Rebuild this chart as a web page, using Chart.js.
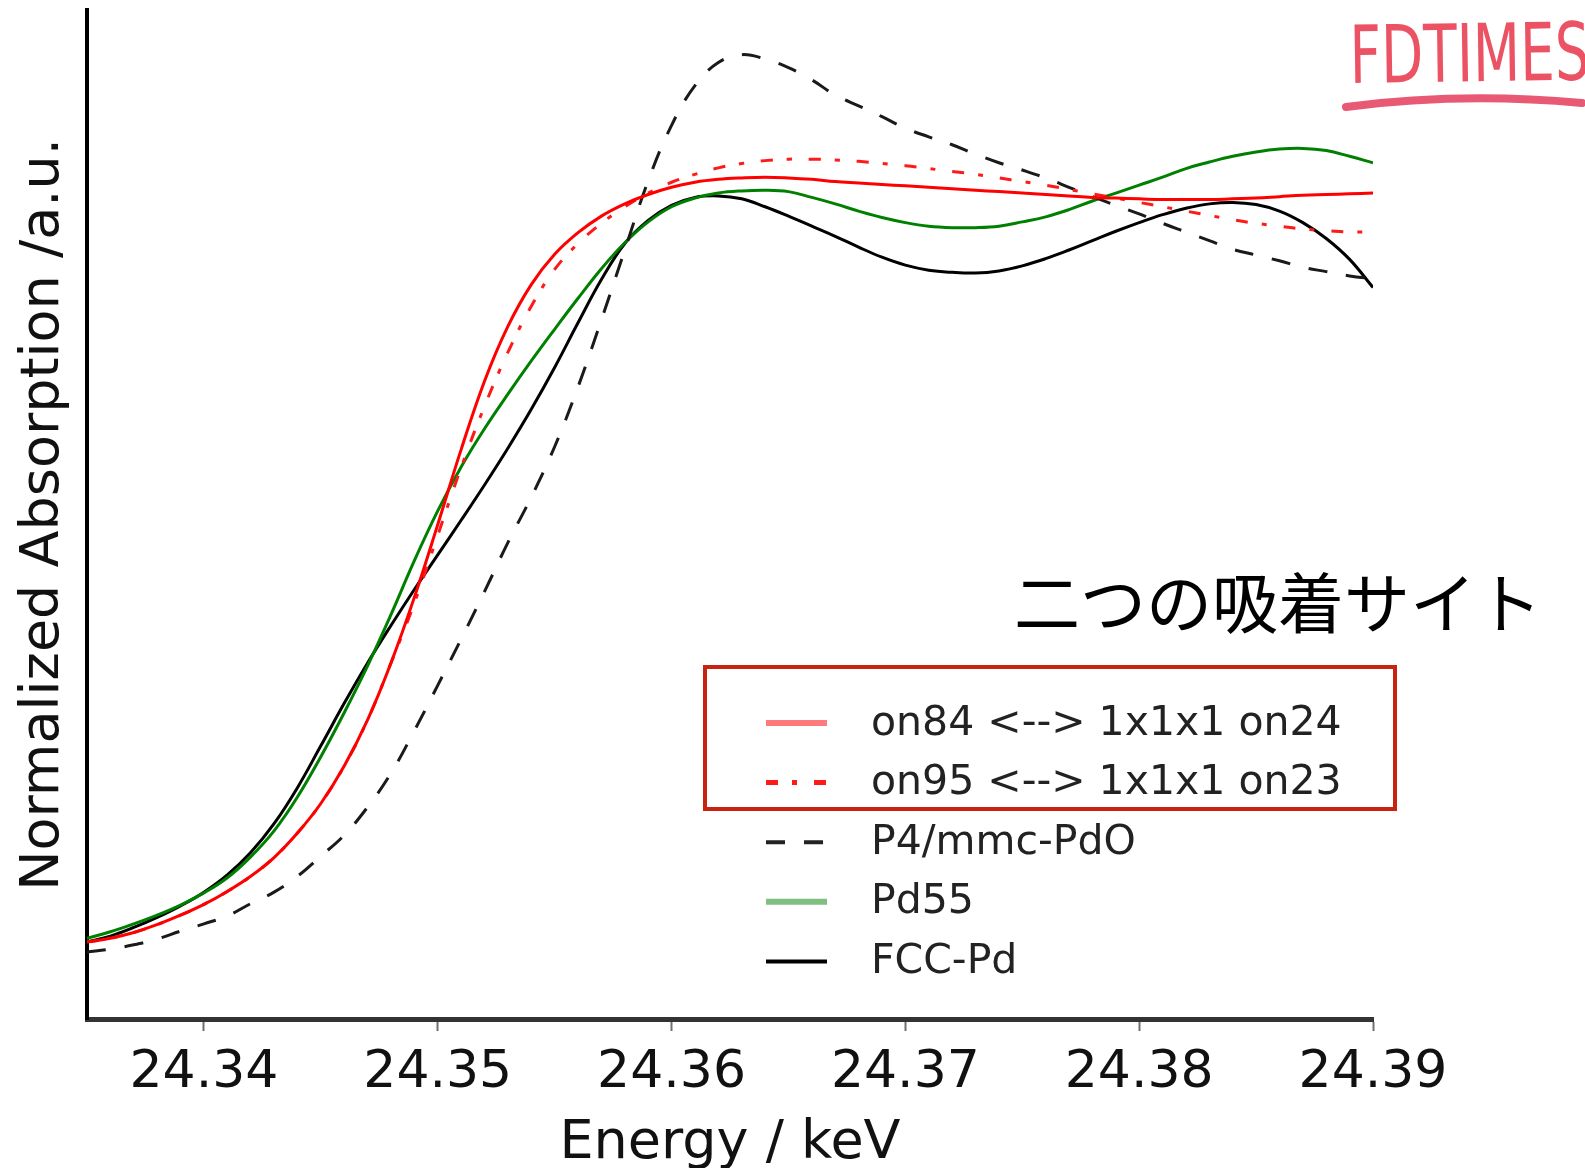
<!DOCTYPE html>
<html>
<head>
<meta charset="utf-8">
<script src="https://cdn.jsdelivr.net/npm/chart.js@4.4.1/dist/chart.umd.min.js"></script>
<style>
  html, body { margin: 0; padding: 0; background: #fff; }
  canvas { display: block; }
</style>
</head>
<body>
<canvas id="xanes" width="1585" height="1168"></canvas>
<script>
// Pd K-edge XANES, 24.335 - 24.390 keV
const energy = [
  24.335, 24.336, 24.337, 24.338, 24.339, 24.340, 24.341, 24.342, 24.343, 24.344,
  24.345, 24.346, 24.347, 24.348, 24.349, 24.350, 24.351, 24.352, 24.353, 24.354,
  24.355, 24.356, 24.357, 24.358, 24.359, 24.360, 24.361, 24.362, 24.363, 24.364,
  24.365, 24.366, 24.367, 24.368, 24.369, 24.370, 24.371, 24.372, 24.373, 24.374,
  24.375, 24.376, 24.377, 24.378, 24.379, 24.380, 24.381, 24.382, 24.383, 24.384,
  24.385, 24.386, 24.387, 24.388, 24.389, 24.390
];

const energyTicks = [24.34, 24.35, 24.36, 24.37, 24.38, 24.39];

const on84 = [
  -0.003, 0.002, 0.010, 0.021, 0.034, 0.049, 0.067, 0.088, 0.114, 0.148,
  0.189, 0.241, 0.305, 0.384, 0.475, 0.576, 0.680, 0.775, 0.851, 0.909,
  0.951, 0.981, 1.004, 1.021, 1.034, 1.044, 1.051, 1.055, 1.057, 1.058,
  1.057, 1.055, 1.052, 1.050, 1.048, 1.046, 1.044, 1.042, 1.040, 1.038,
  1.036, 1.034, 1.032, 1.030, 1.029, 1.028, 1.027, 1.027, 1.027, 1.028,
  1.029, 1.031, 1.033, 1.034, 1.035, 1.036
];

const on95 = [
  -0.003, 0.002, 0.010, 0.021, 0.034, 0.049, 0.067, 0.088, 0.114, 0.148,
  0.189, 0.241, 0.305, 0.384, 0.467, 0.561, 0.655, 0.740, 0.815, 0.879,
  0.930, 0.966, 0.994, 1.017, 1.036, 1.051, 1.062, 1.071, 1.077, 1.081,
  1.083, 1.083, 1.082, 1.080, 1.077, 1.074, 1.070, 1.066, 1.062, 1.057,
  1.052, 1.047, 1.041, 1.035, 1.029, 1.023, 1.017, 1.011, 1.005, 0.999,
  0.994, 0.990, 0.986, 0.984, 0.982, 0.982
];

const pdoP4mmc = [
  -0.017, -0.013, -0.007, 0.001, 0.012, 0.022, 0.033, 0.050, 0.066, 0.088,
  0.116, 0.145, 0.184, 0.231, 0.290, 0.353, 0.417, 0.483, 0.551, 0.614,
  0.684, 0.767, 0.860, 0.957, 1.053, 1.130, 1.185, 1.217, 1.228, 1.222,
  1.210, 1.193, 1.172, 1.157, 1.142, 1.126, 1.114, 1.103, 1.090, 1.078,
  1.068, 1.057, 1.044, 1.031, 1.019, 1.007, 0.994, 0.982, 0.970, 0.958,
  0.950, 0.942, 0.933, 0.927, 0.921, 0.917
];

const pd55 = [
  0.002, 0.011, 0.022, 0.034, 0.048, 0.065, 0.086, 0.115, 0.151, 0.198,
  0.254, 0.315, 0.380, 0.451, 0.526, 0.595, 0.656, 0.709, 0.757, 0.803,
  0.847, 0.890, 0.931, 0.967, 0.996, 1.017, 1.029, 1.036, 1.039, 1.040,
  1.038, 1.030, 1.021, 1.011, 1.002, 0.995, 0.990, 0.988, 0.988, 0.990,
  0.996, 1.003, 1.013, 1.025, 1.036, 1.047, 1.058, 1.070, 1.079, 1.087,
  1.093, 1.097, 1.098, 1.095, 1.087, 1.078
];

const fccPd = [
  -0.003, 0.005, 0.017, 0.031, 0.047, 0.066, 0.090, 0.121, 0.161, 0.211,
  0.269, 0.328, 0.384, 0.436, 0.486, 0.534, 0.582, 0.631, 0.682, 0.736,
  0.794, 0.856, 0.916, 0.966, 0.998, 1.019, 1.030, 1.032, 1.028, 1.017,
  1.004, 0.990, 0.976, 0.961, 0.947, 0.936, 0.929, 0.926, 0.925, 0.928,
  0.935, 0.945, 0.957, 0.970, 0.983, 0.995, 1.006, 1.015, 1.021, 1.023,
  1.020, 1.011, 0.995, 0.973, 0.944, 0.905
];

const seriesLabels = [
  'on84 <--> 1x1x1 on24',
  'on95 <--> 1x1x1 on23',
  'P4/mmc-PdO',
  'Pd55',
  'FCC-Pd'
];

const FONT = "'DejaVu Sans', 'Liberation Sans', sans-serif";

const toPoints = ys => energy.map((e, i) => ({ x: e, y: ys[i] }));

const datasets = [
  { label: seriesLabels[0], data: toPoints(on84), borderColor: '#ff0000', borderWidth: 3,
    legendColor: '#ff7a7a', legendWidth: 6 },
  { label: seriesLabels[1], data: toPoints(on95), borderColor: '#ff1a1a', borderWidth: 3,
    borderDash: [12, 14, 5, 17], legendColor: '#ff1a1a', legendWidth: 5 },
  { label: seriesLabels[2], data: toPoints(pdoP4mmc), borderColor: '#1a1a1a', borderWidth: 3,
    borderDash: [19, 19], legendColor: '#222', legendWidth: 4 },
  { label: seriesLabels[3], data: toPoints(pd55), borderColor: '#008000', borderWidth: 3,
    legendColor: '#7fbf7f', legendWidth: 6 },
  { label: seriesLabels[4], data: toPoints(fccPd), borderColor: '#000000', borderWidth: 3,
    legendColor: '#000', legendWidth: 4 }
];

// Legend, highlight box, annotation and corner logo drawn over the plot
const overlayPlugin = {
  id: 'overlay',
  afterDraw(chart) {
    const ctx = chart.ctx;
    ctx.save();

    // legend rows
    const rowY0 = 723, rowStep = 59.6;
    chart.data.datasets.forEach((ds, i) => {
      const y = rowY0 + i * rowStep;
      ctx.save();
      ctx.strokeStyle = ds.legendColor || ds.borderColor;
      ctx.lineWidth = ds.legendWidth || ds.borderWidth;
      ctx.setLineDash(ds.borderDash || []);
      ctx.beginPath();
      ctx.moveTo(766, y);
      ctx.lineTo(827, y);
      ctx.stroke();
      ctx.restore();

      ctx.fillStyle = '#222';
      ctx.font = '41px ' + FONT;
      ctx.textAlign = 'left';
      ctx.textBaseline = 'middle';
      ctx.fillText(ds.label, 871, y + 1);
    });

    // box around the two adsorption-site series
    ctx.strokeStyle = '#c8230f';
    ctx.lineWidth = 4;
    ctx.setLineDash([]);
    ctx.strokeRect(705, 667, 690, 142);

    // annotation
    ctx.fillStyle = '#000';
    ctx.font = "66px 'Noto Sans CJK JP', sans-serif";
    ctx.textAlign = 'center';
    ctx.textBaseline = 'middle';
    ctx.fillText('二つの吸着サイト', 1278, 603);

    // corner logo
    ctx.save();
    ctx.fillStyle = 'rgba(232, 58, 78, 0.88)';
    ctx.font = "80px 'DejaVu Sans Condensed', 'Liberation Sans Narrow', 'DejaVu Sans', sans-serif";
    ctx.textAlign = 'left';
    ctx.textBaseline = 'alphabetic';
    const w = ctx.measureText('FDTIMES').width;
    ctx.translate(1350, 83);
    ctx.rotate(-0.015);
    ctx.scale(240 / w, 1);
    ctx.fillText('FDTIMES', 0, 0);
    ctx.restore();
    ctx.strokeStyle = 'rgba(228, 60, 90, 0.85)';
    ctx.lineWidth = 8;
    ctx.lineCap = 'round';
    ctx.beginPath();
    ctx.moveTo(1346, 107);
    ctx.quadraticCurveTo(1460, 92, 1582, 103);
    ctx.stroke();

    ctx.restore();
  }
};

new Chart(document.getElementById('xanes'), {
  type: 'line',
  data: { datasets },
  plugins: [overlayPlugin],
  options: {
    responsive: false,
    animation: false,
    devicePixelRatio: 1,
    layout: { padding: { top: 10, right: 212, left: 0, bottom: 0 } },
    plugins: { legend: { display: false }, tooltip: { enabled: false } },
    elements: {
      point: { radius: 0 },
      line: { tension: 0.4, fill: false }
    },
    scales: {
      x: {
        type: 'linear',
        min: 24.335,
        max: 24.39,
        afterBuildTicks: s => { s.ticks = energyTicks.map(v => ({ value: v })); },
        afterFit: s => { s.height = 149; },
        ticks: {
          callback: v => Number(v).toFixed(2),
          font: { family: FONT, size: 52 },
          color: '#111',
          padding: 11,
          maxRotation: 0,
          autoSkip: false
        },
        grid: { drawOnChartArea: false, drawTicks: true, tickLength: 12, tickColor: '#707070', tickWidth: 2 },
        border: { display: true, color: '#333', width: 5 },
        title: {
          display: true,
          text: 'Energy / keV',
          font: { family: FONT, size: 54 },
          color: '#111',
          padding: { top: 0, bottom: -8 }
        }
      },
      y: {
        min: -0.11,
        max: 1.29,
        afterFit: s => { s.width = 87; },
        ticks: { display: false },
        grid: { drawOnChartArea: false, drawTicks: false },
        border: { display: true, color: '#000', width: 4 },
        title: {
          display: true,
          text: 'Normalized Absorption /a.u.',
          font: { family: FONT, size: 54 },
          color: '#111',
          padding: { top: 12, bottom: 0 }
        }
      }
    }
  }
});
</script>
</body>
</html>
